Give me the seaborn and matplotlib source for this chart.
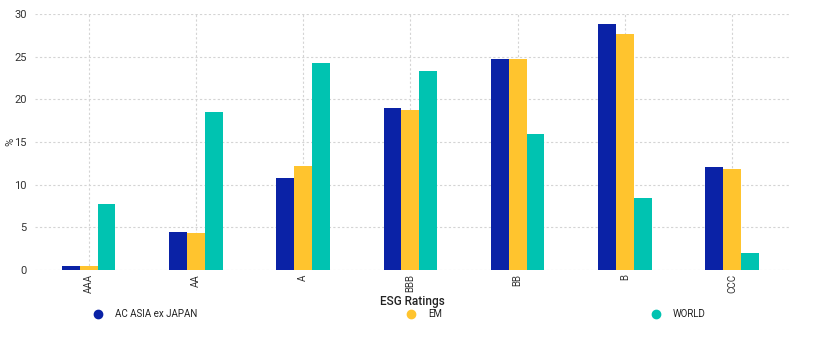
import matplotlib
matplotlib.use("Agg")
import matplotlib.pyplot as plt
import seaborn as sns
import pandas as pd
from matplotlib.lines import Line2D

ratings = ["AAA", "AA", "A", "BBB", "BB", "B", "CCC"]
series = ["AC ASIA ex JAPAN", "EM", "WORLD"]
asia = [0.5, 4.4, 10.8, 18.95, 24.7, 28.8, 12.05]
em = [0.5, 4.3, 12.2, 18.8, 24.7, 27.7, 11.85]
world = [7.7, 18.55, 24.2, 23.35, 15.9, 8.45, 1.95]
colors = ["#0A22A6", "#FFC42E", "#00C3B1"]
yticks = [0, 5, 10, 15, 20, 25, 30]

df = pd.DataFrame({
    "rating": ratings * 3,
    "series": [series[0]] * 7 + [series[1]] * 7 + [series[2]] * 7,
    "value": asia + em + world,
})

sns.set_theme(style="white")
plt.rcParams["font.family"] = ["Roboto", "DejaVu Sans"]

fig = plt.figure(figsize=(8.25, 3.47), dpi=100)
ax = fig.add_axes([35 / 825, 1 - 270 / 347, 755 / 825, 256 / 347])

sns.barplot(data=df, x="rating", y="value", hue="series", order=ratings,
            hue_order=series, palette=colors, width=0.5, saturation=1,
            linewidth=0, legend=False, ax=ax)

ax.set_ylim(0, 30)
ax.set_xlim(-0.5, 6.54)
ax.set_yticks(yticks)
ax.set_yticklabels([str(t) for t in yticks], fontsize=8, color="#333333")
ax.tick_params(axis="x", labelrotation=90, labelsize=7, labelcolor="#333333", length=0, pad=3)
ax.tick_params(axis="y", length=0, pad=6)
for s in ax.spines.values():
    s.set_visible(False)
ax.grid(True, axis="both", color="#d4d4d4", linestyle=(0, (2, 2)), linewidth=0.8)
ax.set_axisbelow(True)
ax.set_xlabel("ESG Ratings", fontsize=8.5, fontweight="medium", color="#222222", labelpad=1)
ax.set_ylabel("%", fontsize=8, color="#333333")
ax.yaxis.set_label_coords(-20 / 755, 0.5)

handles = [Line2D([], [], marker="o", linestyle="", markersize=6,
                  markerfacecolor=c, markeredgecolor=c) for c in colors]
fig.legend(handles, series, loc="center left", bbox_to_anchor=(88 / 825, 1 - 314 / 347),
           ncol=3, frameon=False, fontsize=7, columnspacing=21,
           handletextpad=0.75, borderaxespad=0, borderpad=0, labelcolor="#222222")

fig.savefig("out.png", dpi=100)
